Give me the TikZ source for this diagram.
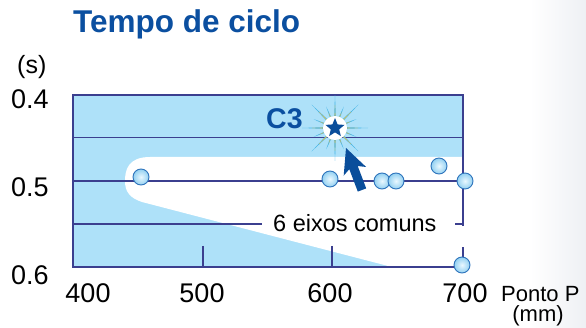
\documentclass[tikz,border=0pt]{standalone}
\usepackage{fontspec}
\setmainfont{Liberation Sans}
\usetikzlibrary{calc}
\definecolor{plotblue}{HTML}{AEE1F9}
\definecolor{gridc}{HTML}{3B3F8F}
\definecolor{titleblue}{HTML}{0B4FA0}
\definecolor{starblue}{HTML}{0A4E9B}
\definecolor{rayblue}{HTML}{45B4E6}
\definecolor{rayyellow}{HTML}{F2C23A}
\definecolor{dotedge}{HTML}{2E74BC}
\definecolor{dotin}{HTML}{EAF8FF}
\definecolor{dotout}{HTML}{92D0F1}
\definecolor{edgegray}{HTML}{EEF0F4}
\begin{document}
\begin{tikzpicture}[x=1pt,y=-1pt,
  gridline/.style={gridc, line width=1.5pt},
  frame/.style={gridc, line width=1.8pt},
  dot/.style={circle, draw=dotedge, line width=0.9pt, inner color=dotin, outer color=dotout, minimum size=16pt, inner sep=0pt},
  ticklab/.style={font=\fontsize{27}{30}\selectfont, inner sep=0pt},
  unitlab/.style={font=\fontsize{22}{26}\selectfont, inner sep=0pt},
  titlelab/.style={font=\bfseries\fontsize{31.5}{34}\selectfont, text=titleblue, inner sep=0pt, anchor=base west},
]
\useasboundingbox (0,0) rectangle (586,328);
\shade[left color=white, right color=edgegray] (530,0) rectangle (586,328);
% plot background
\fill[plotblue] (73,95) rectangle (463,267);
\fill[white] (470,157) -- (150,157) .. controls (128,157) and (125,170) .. (125,181)
  .. controls (125,192) and (130,198) .. (142,202) -- (392,267) -- (470,267) -- cycle;
% grid lines
\draw[gridline] (73,137.5) -- (463,137.5);
\draw[gridline] (73,181) -- (463,181);
\draw[gridline] (73,224) -- (262,224);
\draw[gridline] (455,224) -- (463,224);
\draw[gridline] (203,246) -- (203,267);
\draw[gridline] (332,246) -- (332,267);
% frame
\draw[frame] (463,226) -- (463,95) -- (73,95) -- (73,267) -- (463,267) -- (463,247);
% data points
\node[dot] (d1) at (141,177) {};
\node[dot] (d2) at (330,179) {};
\node[dot] (d3) at (382,181) {};
\node[dot] (d4) at (396,181) {};
\node[dot] (d5) at (439,166) {};
\node[dot] (d6) at (465,181) {};
\node[dot] (d7) at (462,265) {};
% star burst
\begin{scope}[shift={(335,128)}]
  \foreach \a in {0,45,...,315} {
    \fill[rayblue] (\a-8:7) -- (\a:33) -- (\a+8:7) -- cycle;
    \fill[rayyellow] (\a-4:7) -- (\a:23) -- (\a+4:7) -- cycle;
  }
  \foreach \a in {22.5,67.5,...,337.5} {
    \fill[rayblue] (\a-8:7) -- (\a:23) -- (\a+8:7) -- cycle;
    \fill[rayyellow] (\a-4:7) -- (\a:17) -- (\a+4:7) -- cycle;
  }
  \fill[white] (0,0) circle (12);
  \fill[starblue] (-90:10) -- (-54:4.4) -- (-18:10) -- (18:4.4) -- (54:10) -- (90:4.4)
    -- (126:10) -- (162:4.4) -- (198:10) -- (234:4.4) -- cycle;
\end{scope}
\node[font=\bfseries\fontsize{28.5}{30}\selectfont, text=titleblue, inner sep=0pt, anchor=base west] (c3) at (266,129) {C3};
% cursor arrow
\fill[starblue] (346,148) -- (366.1,167.0) -- (357.7,166.0) -- (366.2,188.4) -- (357.8,191.6)
  -- (349.3,169.2) -- (343.7,175.6) -- cycle;
% texts
\node[titlelab] (title) at (73,33) {Tempo de ciclo};
\node[font=\fontsize{25}{28}\selectfont, inner sep=0pt, anchor=base west] (s) at (17,74) {(s)};
\node[ticklab, anchor=base west] (y4) at (11,109) {0.4};
\node[ticklab, anchor=base west] (y5) at (11,197) {0.5};
\node[ticklab, anchor=base west] (y6) at (11,285) {0.6};
\node[ticklab, anchor=base] (x4) at (88,303) {400};
\node[ticklab, anchor=base] (x5) at (202,303) {500};
\node[ticklab, anchor=base] (x6) at (330,303) {600};
\node[ticklab, anchor=base] (x7) at (465,303) {700};
\node[unitlab, anchor=base west] (pp) at (501,301.5) {Ponto P};
\node[unitlab, anchor=base] (mm) at (538,321.5) {(mm)};
\node[font=\fontsize{23.5}{26}\selectfont, inner sep=0pt, anchor=base west] (ax) at (273,232) {6 eixos comuns};
\end{tikzpicture}
\end{document}
